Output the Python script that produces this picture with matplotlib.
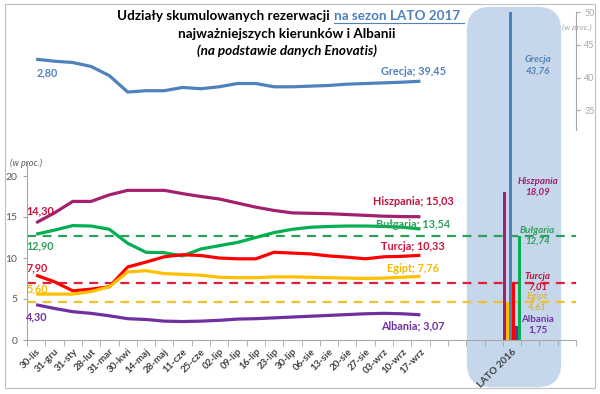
import matplotlib
matplotlib.use("Agg")
import matplotlib.pyplot as plt
import numpy as np
from matplotlib.patches import FancyBboxPatch, Rectangle
from matplotlib.lines import Line2D

plt.rcParams['font.family'] = ['Lato', 'DejaVu Sans']

# dane
daty = ['30-lis', '31-gru', '31-sty', '28-lut', '31-mar', '30-kwi', '14-maj',
        '28-maj', '11-cze', '25-cze', '02-lip', '09-lip', '16-lip', '23-lip',
        '30-lip', '06-sie', '13-sie', '20-sie', '27-sie', '03-wrz', '10-wrz',
        '17-wrz']
grecja = [42.8, 42.5, 42.3, 41.7, 40.3, 37.8, 38.0, 38.0, 38.5, 38.3, 38.6,
          39.1, 39.1, 38.6, 38.6, 38.7, 38.8, 39.0, 39.1, 39.2, 39.3, 39.45]
hiszpania = [14.3, 15.5, 16.9, 16.9, 17.7, 18.25, 18.25, 18.25, 17.85, 17.5,
             17.2, 16.7, 16.2, 15.8, 15.5, 15.45, 15.4, 15.3, 15.2, 15.1,
             15.05, 15.03]
bulgaria = [12.9, 13.4, 13.95, 13.9, 13.5, 11.8, 10.7, 10.65, 10.25, 11.1,
            11.5, 11.9, 12.5, 13.1, 13.5, 13.75, 13.85, 13.9, 13.9, 13.85,
            13.75, 13.54]
turcja = [7.9, 7.1, 6.0, 6.2, 6.5, 8.9, 9.5, 10.15, 10.4, 10.3, 10.0, 9.9,
          9.9, 10.7, 10.6, 10.5, 10.25, 10.1, 9.9, 10.15, 10.2, 10.33]
egipt = [5.6, 5.6, 5.6, 5.9, 6.5, 8.3, 8.45, 8.1, 8.0, 7.9, 7.65, 7.6, 7.6,
         7.7, 7.7, 7.65, 7.6, 7.55, 7.5, 7.55, 7.65, 7.76]
albania = [4.3, 3.85, 3.45, 3.25, 2.95, 2.6, 2.5, 2.3, 2.25, 2.3, 2.4, 2.55,
           2.6, 2.7, 2.8, 2.9, 3.0, 3.1, 3.2, 3.25, 3.2, 3.07]

# LATO 2016
kraje_2016 = ['Hiszpania', 'Egipt', 'Grecja', 'Turcja', 'Albania', 'Bułgaria']
lato_2016 = [18.09, 4.61, 43.76, 7.01, 1.75, 12.74]

n_kat = 30
poz_2016 = 26
etykiety = daty + [''] * (n_kat - len(daty))
etykiety[poz_2016] = 'LATO 2016'

kolory = {'Grecja': '#4F81BD', 'Hiszpania': '#A3206F', 'Bułgaria': '#00B050',
          'Turcja': '#FF0000', 'Egipt': '#FFC000', 'Albania': '#7030A0'}
kol_tekst = {'Grecja': '#4F81BD', 'Hiszpania': '#C0143C', 'Bułgaria': '#2EA05A',
             'Turcja': '#D0143C', 'Egipt': '#F5B800', 'Albania': '#7030A0'}
kol_2016 = {'Grecja': '#4F81BD', 'Hiszpania': '#A3206F', 'Bułgaria': '#2EA05A',
            'Turcja': '#C0143C', 'Egipt': '#D9B84A', 'Albania': '#7030A0'}
kol_przer = {'Bułgaria': '#2E9E5B', 'Turcja': '#E0203A', 'Egipt': '#F2C02E'}

fig = plt.figure(figsize=(6, 3.94), dpi=100)

# ramka i tlo LATO 2016
fig.patches.append(Rectangle((5 / 600, 6 / 394), 590 / 600, 384 / 394,
                             transform=fig.transFigure, fill=False,
                             edgecolor='#BFBFBF', lw=0.8, zorder=-2))
fig.patches.append(FancyBboxPatch((474 / 600, 14 / 394), 80 / 600, 366 / 394,
                                  boxstyle="round,pad=0.012,rounding_size=0.04",
                                  transform=fig.transFigure, mutation_aspect=600 / 394,
                                  facecolor='#C6D6EB', edgecolor='none', zorder=-1))

ax = fig.add_axes([27 / 600, 1 - 340 / 394, 549 / 600, 328 / 394])
ax.set_facecolor('none')
ax2 = ax.twinx()
ax2.set_facecolor('none')

x = np.arange(len(daty))
lw = 2.3
serie = [('Hiszpania', hiszpania), ('Bułgaria', bulgaria), ('Turcja', turcja),
         ('Egipt', egipt), ('Albania', albania)]
for nazwa, y in serie:
    ax.plot(x, y, color=kolory[nazwa], lw=lw, solid_capstyle='butt', zorder=3)
ax2.plot(x, grecja, color=kolory['Grecja'], lw=lw, solid_capstyle='butt')

# linie przerywane - poziom LATO 2016
for nazwa in ['Bułgaria', 'Turcja', 'Egipt']:
    ax.axhline(lato_2016[kraje_2016.index(nazwa)], color=kol_przer[nazwa],
               lw=1.6, ls=(0, (4, 3)), zorder=2)

# slupki LATO 2016
szer = 0.16
for i, nazwa in enumerate(kraje_2016):
    ax.bar(poz_2016 - 0.47 + szer * (i + 0.5), lato_2016[i], width=szer * 0.95,
           color=kolory[nazwa], zorder=4)

ax.set_xlim(-0.5, n_kat - 0.5)
ax.set_ylim(0, 40)
ax2.set_ylim(0, 50)

szary = '#A6A6A6'
ax.spines['top'].set_visible(False)
ax.spines['right'].set_visible(False)
ax.spines['left'].set_bounds(0, 21.6)
ax.spines['left'].set_color(szary)
ax.spines['bottom'].set_color(szary)
ax.set_yticks([0, 5, 10, 15, 20])
ax.tick_params(axis='y', colors=szary, labelcolor='#595959', labelsize=7.5,
               length=3, pad=4)
ax.set_xticks(np.arange(n_kat))
ax.set_xticklabels(etykiety, rotation=45, ha='right', rotation_mode='anchor',
                   fontsize=7, fontweight='bold', color='#404040')
ax.tick_params(axis='x', which='major', length=0, pad=5)
ax.set_xticks(np.arange(-0.5, n_kat, 1), minor=True)
ax.tick_params(axis='x', which='minor', length=4, color=szary)

for s in ['top', 'left', 'bottom']:
    ax2.spines[s].set_visible(False)
ax2.spines['right'].set_bounds(32, 50)
ax2.spines['right'].set_color(szary)
ax2.set_yticks([35, 40, 45, 50])
ax2.tick_params(axis='y', colors=szary, labelcolor=szary, labelsize=6.5,
                length=3, pad=3)

# etykiety serii
def fmt(v):
    return ('%.2f' % v).replace('.', ',')

fs = 7.8
x_kon = x[-1] - 0.4
ax2.text(0, grecja[0] - 2.1, '2,80', color=kol_tekst['Grecja'], fontsize=fs,
         fontweight='bold', ha='left', va='center')
ax2.text(x_kon, grecja[-1] + 1.55, 'Grecja; ' + fmt(grecja[-1]),
         color=kol_tekst['Grecja'], fontsize=fs, fontweight='bold',
         ha='center', va='center')

start = [('Hiszpania', hiszpania, 1.4), ('Bułgaria', bulgaria, -1.44),
         ('Turcja', turcja, 0.88), ('Egipt', egipt, 0.6),
         ('Albania', albania, -1.5)]
for nazwa, y, dy in start:
    ax.text(-0.55, y[0] + dy, fmt(y[0]), color=kol_tekst[nazwa], fontsize=fs,
            fontweight='bold', ha='left', va='center', zorder=5)

koniec = [('Hiszpania', hiszpania, 1.9), ('Bułgaria', bulgaria, 0.6),
          ('Turcja', turcja, 1.13), ('Egipt', egipt, 1.02),
          ('Albania', albania, -1.36)]
for nazwa, y, dy in koniec:
    ax.text(x_kon, y[-1] + dy, nazwa + '; ' + fmt(y[-1]),
            color=kol_tekst[nazwa], fontsize=fs, fontweight='bold',
            ha='center', va='center', zorder=5)

# etykiety LATO 2016
xl = poz_2016 + 1.4
opis = [('Grecja', 2, 33.5, True), ('Hiszpania', 0, 18.7, True),
        ('Bułgaria', 5, 12.7, True), ('Turcja', 3, 7.07, True),
        ('Egipt', 1, 4.63, True), ('Albania', 4, 1.83, False)]
for nazwa, i, yy, kursywa in opis:
    ax.text(xl, yy, nazwa + '\n' + fmt(lato_2016[i]), color=kol_2016[nazwa],
            fontsize=7, fontweight='bold', style='italic' if kursywa else 'normal',
            ha='center', va='center', linespacing=1.3, zorder=5)

# (w proc.)
fig.text(10 / 600, 1 - 163 / 394, '(w proc.)', fontsize=6.5, style='italic',
         color='#595959', ha='left', va='center')
fig.text(562 / 600, 1 - 27 / 394, '(w proc.)', fontsize=6, style='italic',
         color=szary, ha='left', va='center')

# tytul
ft = 9.7
t1 = fig.text(117 / 600, 1 - 16 / 394, 'Udziały skumulowanych rezerwacji',
              fontsize=ft, fontweight='bold', ha='left', va='center')
fig.canvas.draw()
bb = t1.get_window_extent()
inv = fig.transFigure.inverted()
x_blue = inv.transform((bb.x1 + 4, 0))[0]
t2 = fig.text(x_blue, 1 - 16 / 394, 'na sezon LATO 2017', fontsize=ft,
              fontweight='bold', color='#4F81BD', ha='left', va='center')
fig.canvas.draw()
bb2 = t2.get_window_extent()
(u0, uy), (u1, _) = inv.transform([(bb2.x0, bb2.y0 - 1), (bb2.x1 + 4, bb2.y0 - 1)])
fig.lines.append(Line2D([u0, u1], [uy, uy], transform=fig.transFigure,
                        color='#4F81BD', lw=0.8))
fig.text(287 / 600, 1 - 34 / 394, 'najważniejszych kierunków i Albanii',
         fontsize=ft, fontweight='bold', ha='center', va='center')
fig.text(287 / 600, 1 - 51 / 394, '(na podstawie danych Enovatis)',
         fontsize=ft, fontweight='bold', style='italic', ha='center', va='center')

fig.savefig('out.png', dpi=100)
